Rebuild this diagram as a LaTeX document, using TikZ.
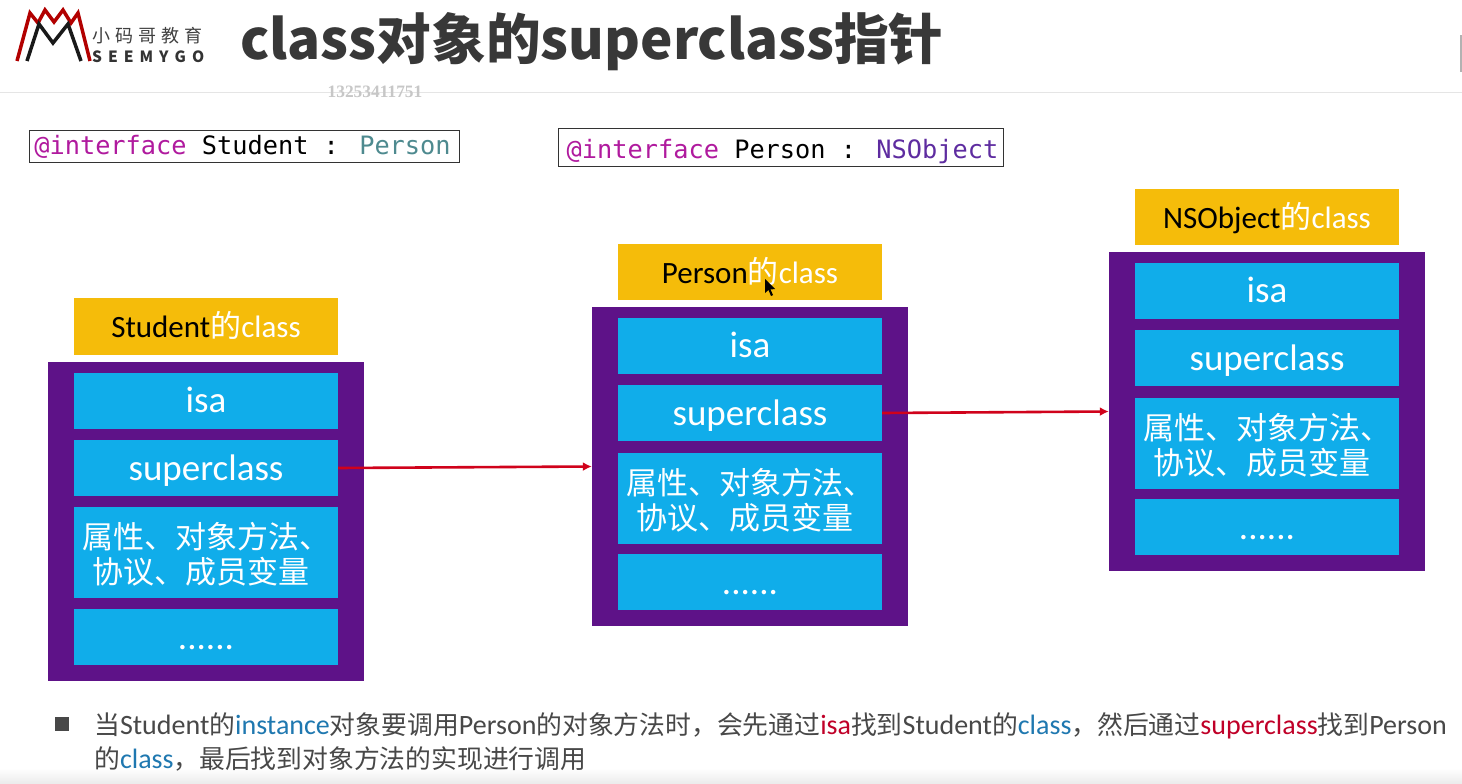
\documentclass[tikz,border=0pt]{standalone}
\usepackage{xcolor}
\usepackage{fontspec}
\usepackage{tikz}
\usetikzlibrary{positioning, arrows.meta}
\setmainfont{Carlito}
\newfontfamily\cjk{Noto Sans CJK SC}
\newfontfamily\codefont{DejaVu Sans Mono}
\newfontfamily\markfont{Liberation Serif}
\definecolor{classpurple}{HTML}{5E1288}
\definecolor{fieldblue}{HTML}{10ADEA}
\definecolor{headgold}{HTML}{F5BC0A}
\definecolor{linkred}{HTML}{D0021B}
\definecolor{kwpink}{HTML}{B01A9E}
\definecolor{typeteal}{HTML}{4E8A8F}
\definecolor{typepurple}{HTML}{5E2CA0}
\definecolor{bodygray}{HTML}{484848}
\definecolor{notered}{HTML}{C00028}
\definecolor{noteblue}{HTML}{1F78B0}
\newcommand{\fsz}[1]{\fontsize{#1}{#1}\selectfont}
\newcommand{\zh}[1]{{\cjk #1}}
\newcommand{\nz}[1]{{\cjk\fontsize{25.8}{25.8}\selectfont #1}}
\newcommand{\attrtext}{\rule{0pt}{30pt}属性、对象方法、\\协议、成员变量\hspace*{10pt}}
\tikzset{
    classbox/.style={fill=classpurple, minimum width=316pt, minimum height=319pt, inner sep=0pt},
    headbox/.style={fill=headgold, minimum width=264pt, minimum height=56.5pt, inner sep=0pt, text height=27pt, text depth=5pt, font=\fsz{31}},
    fieldbox/.style={fill=fieldblue, text=white, minimum width=264pt, minimum height=56pt, inner sep=0pt, text height=30pt, text depth=6pt, font=\fsz{37}},
    attrbox/.style={fill=fieldblue, text=white, minimum width=264pt, minimum height=91pt, inner sep=0pt, align=center, font=\cjk\fontsize{31}{35}\selectfont},
    codebox/.style={draw=black!80, line width=1pt, fill=white, inner sep=0pt, font=\codefont\fsz{25.3}},
    notetext/.style={anchor=base west, inner sep=0pt, text=bodygray, font=\fsz{28}},
    link/.style={-{Latex[length=9pt,width=9pt]}, linkred, line width=2.6pt},
}
\begin{document}
\begin{tikzpicture}[x=1pt, y=-1pt]
    \useasboundingbox (0, 0) rectangle (1462, 784);
    \fill[white] (0, 0) rectangle (1462, 784);
    \shade[top color=white, bottom color=black!8] (0, 768) rectangle (1462, 784);
    \draw[black!10, line width=1pt] (0, 92) -- (1462, 92);
    \fill[black!30] (1460, 35) rectangle (1462, 72);

    % logo
    \draw[red!70!black, line width=3.5pt, line join=miter] (17, 61) -- (30, 13) -- (38, 23) -- (45, 10) -- (54, 22) -- (63, 10) -- (71, 23) -- (78, 13) -- (90, 61);
    \draw[black!90, line width=3.5pt, line join=miter] (27, 61) -- (39, 24) -- (53, 43) -- (68, 24) -- (81, 61);
    \node[font=\cjk\fsz{18}, text=black!75, anchor=west, inner sep=0pt] (logozh) at (92, 36) {小\hspace{5pt}码\hspace{5pt}哥\hspace{5pt}教\hspace{5pt}育};
    \node[font=\cjk\bfseries\fsz{15.5}, text=black!80, anchor=west, inner sep=0pt] (logoen) at (92, 57) {S\hspace{6pt}E\hspace{6pt}E\hspace{6pt}M\hspace{6pt}Y\hspace{6pt}G\hspace{6pt}O};

    \node[font=\cjk\bfseries\fsz{54.7}, text=black!78, anchor=west, inner sep=0pt] (title) at (240, 42) {class对象的superclass指针};
    \node[font=\markfont\bfseries\fsz{17.4}, text=black!22, inner sep=0pt] (mark) at (375, 92) {13253411751};

    \node[codebox, minimum width=430pt, minimum height=32pt, text height=20pt, text depth=4pt] (stucode) at (244, 146) {\hspace*{-3pt}\textcolor{kwpink}{@interface} Student : \textcolor{typeteal}{Person}};
    \node[codebox, minimum width=445pt, minimum height=38pt, text height=24pt, text depth=2pt] (percode) at (780.5, 147) {\hspace*{4pt}\textcolor{kwpink}{@interface} Person : \textcolor{typepurple}{NSObject}};

    \node[headbox] (stuhead) at (206, 326.5) {Student\textcolor{white}{\zh{的}class}};
    \node[classbox] (stubox) at (206, 521) {};
    \node[fieldbox] (stuisa) at (206, 400.5) {isa};
    \node[fieldbox] (stusuper) at (206, 468) {superclass};
    \node[attrbox] (stuattr) at (206, 552.5) {\attrtext};
    \node[fieldbox] (studots) at (206, 637) {......};

    \node[headbox] (perhead) at (750, 272) {Person\textcolor{white}{\zh{的}class}};
    \node[classbox] (perbox) at (750, 466.5) {};
    \node[fieldbox] (perisa) at (750, 345.5) {isa};
    \node[fieldbox] (persuper) at (750, 413) {superclass};
    \node[attrbox] (perattr) at (750, 498) {\attrtext};
    \node[fieldbox] (perdots) at (750, 582) {......};

    \node[headbox] (nshead) at (1267, 217) {NSObject\textcolor{white}{\zh{的}class}};
    \node[classbox] (nsbox) at (1267, 411.5) {};
    \node[fieldbox] (nsisa) at (1267, 290.5) {isa};
    \node[fieldbox] (nssuper) at (1267, 358) {superclass};
    \node[attrbox] (nsattr) at (1267, 443) {\attrtext};
    \node[fieldbox] (nsdots) at (1267, 527) {......};

    \draw[link] (stusuper.east) -- (perbox.west);
    \draw[link] (persuper.east) -- (nsbox.west);

    % mouse pointer
    \fill[black] (765, 279) -- (765, 293) -- (768.5, 290) -- (771, 296) -- (773, 295) -- (770.5, 289.5) -- (775, 289) -- cycle;

    \fill[bodygray] (55, 717) rectangle (69, 731);
    \node[notetext] (noteone) at (94, 734) {\nz{当}Student\nz{的}\textcolor{noteblue}{instance}\nz{对象要调用}Person\nz{的对象方法时，会先通过}\textcolor{notered}{isa}\nz{找到}Student\nz{的}\textcolor{noteblue}{class}\nz{，然后通过}\textcolor{notered}{superclass}\nz{找到}Person};
    \node[notetext] (notetwo) at (94, 768) {\nz{的}\textcolor{noteblue}{class}\nz{，最后找到对象方法的实现进行调用}};
\end{tikzpicture}
\end{document}
